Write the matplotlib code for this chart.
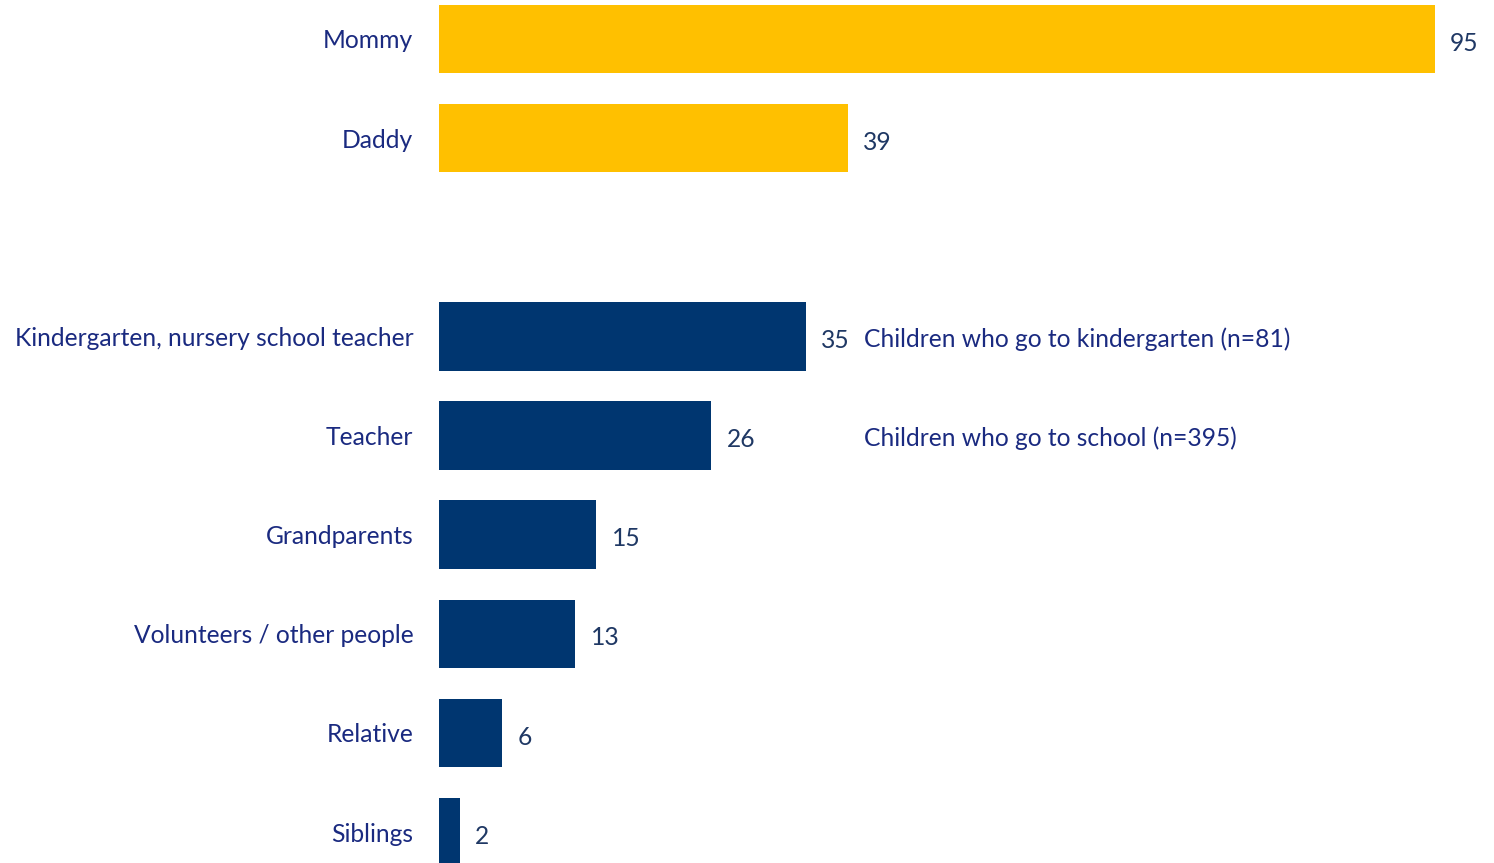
import matplotlib
matplotlib.use("Agg")
import matplotlib.pyplot as plt

# Who the children talk to / get help from (%)
parents = ["Mommy", "Daddy"]
parent_values = [95, 39]
others = ["Kindergarten, nursery school teacher", "Teacher", "Grandparents",
          "Volunteers / other people", "Relative", "Siblings"]
other_values = [35, 26, 15, 13, 6, 2]
notes = ["Children who go to kindergarten (n=81)", "Children who go to school (n=395)"]

YELLOW = "#FFC000"
NAVY = "#003670"
LABEL_COLOR = "#1A2A80"
VALUE_COLOR = "#1F3864"
FS = 17.7

plt.rcParams["font.family"] = ["Lato", "DejaVu Sans"]

W, H = 1494, 863
fig = plt.figure(figsize=(W / 100, H / 100), dpi=100)

# axes spans slot -0.5 .. 8.5 vertically; bottom slot runs off the page
top_px, bottom_px = -10.6, 881.6
left_px, right_px = 439, 439 + 1048
ax = fig.add_axes([left_px / W, (H - bottom_px) / H,
                   (right_px - left_px) / W, (bottom_px - top_px) / H])

labels = parents + others
values = parent_values + other_values
positions = [0, 1] + [3 + i for i in range(len(others))]
colors = [YELLOW] * len(parents) + [NAVY] * len(others)

ax.barh(positions, values, height=0.69, color=colors)
ax.set_xlim(0, 100)
ax.set_ylim(8.5, -0.5)

for y, v in zip(positions, values):
    ax.annotate(f"{v}", xy=(v, y), xytext=(11, -3), textcoords="offset points",
                ha="left", va="center", fontsize=FS, color=VALUE_COLOR)

for i, note in enumerate(notes):
    ax.annotate(note, xy=(40.55, 3 + i), xytext=(0, -2), textcoords="offset points",
                ha="left", va="center", fontsize=FS, color=LABEL_COLOR)

ax.set_yticks(positions)
ax.set_yticklabels(labels, fontsize=FS, color=LABEL_COLOR)
ax.tick_params(axis="y", length=0, pad=18.5)
ax.set_xticks([])
for s in ax.spines.values():
    s.set_visible(False)

fig.savefig("out.png", dpi=100, facecolor="white")
